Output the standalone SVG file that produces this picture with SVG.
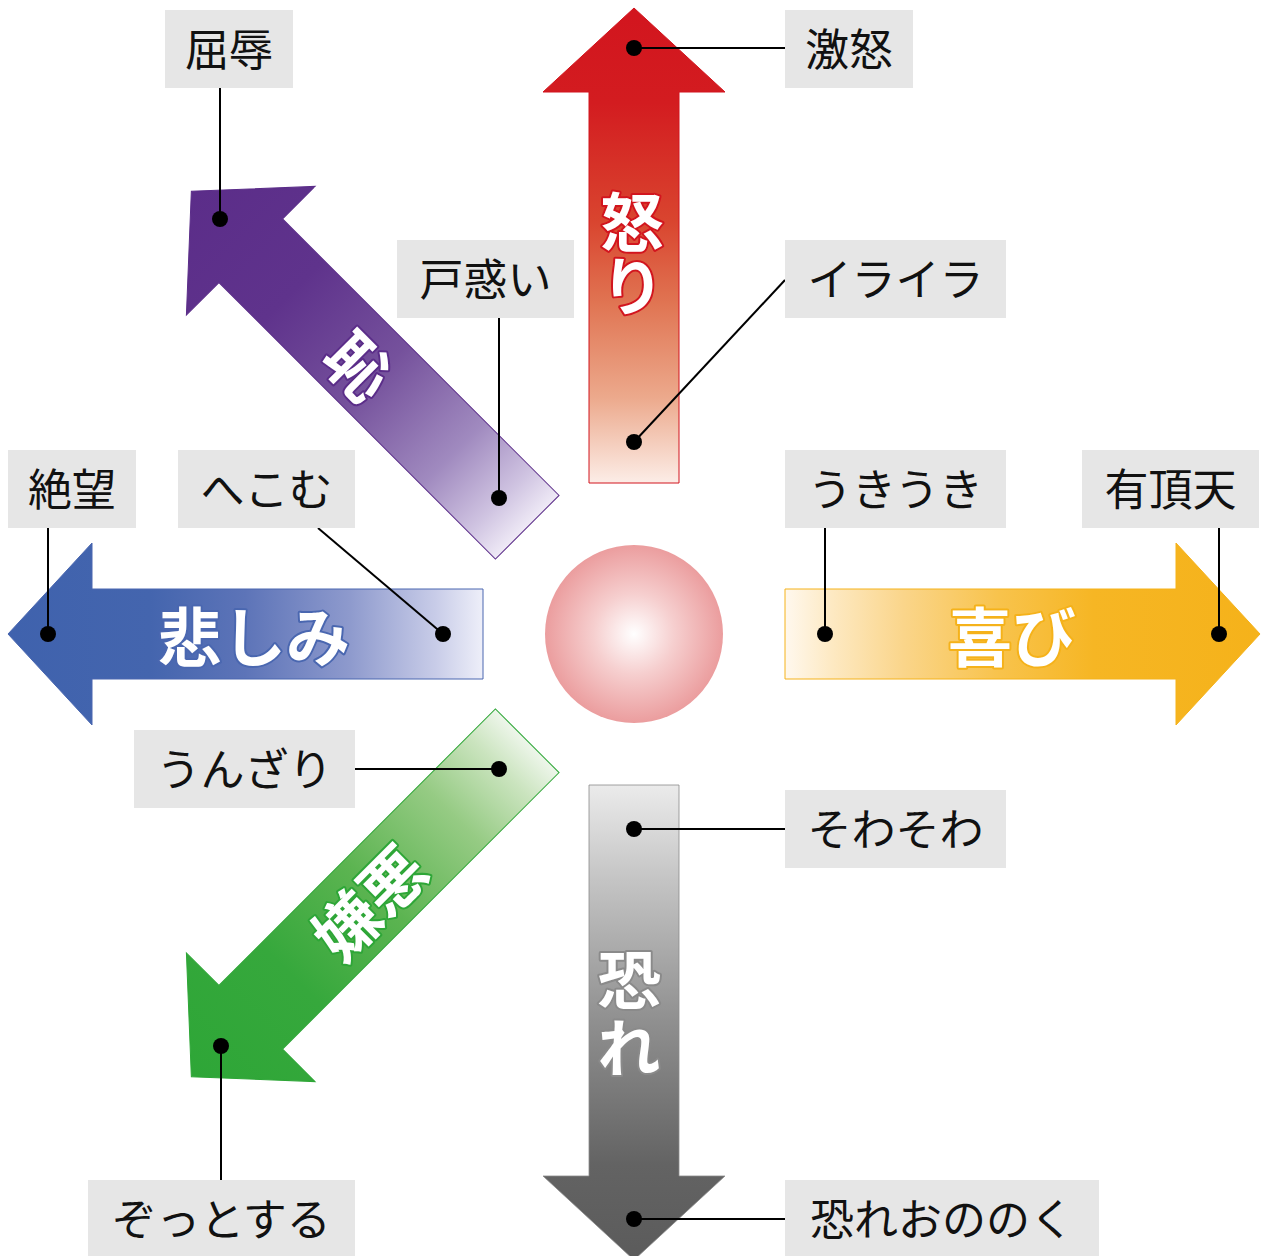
<svg xmlns="http://www.w3.org/2000/svg" xmlns:xlink="http://www.w3.org/1999/xlink" width="1261" height="1256" viewBox="0 0 1261 1256">
<style>
.box{fill:#e6e6e6}
.lbl{font-family:"Noto Sans CJK JP","Noto Sans",sans-serif;font-size:44px;fill:#111;text-anchor:middle}
.big{font-family:"Noto Sans CJK JP","Noto Sans",sans-serif;font-size:64px;font-weight:bold;fill:#fff;text-anchor:middle;stroke-width:4;paint-order:stroke;stroke-linejoin:round}
.vert{writing-mode:vertical-rl}
.con line{stroke:#000;stroke-width:2}
.con circle{fill:#000}
</style>
<defs>
<path id="arr" d="M634,8 L725,92 L679,92 L679,483 L589,483 L589,92 L543,92 Z"/>
<linearGradient id="gRed" x1="0" y1="0" x2="0" y2="1">
<stop offset="0" stop-color="#d2151e"/><stop offset="0.2" stop-color="#d31c20"/><stop offset="0.45" stop-color="#d9452f"/><stop offset="0.62" stop-color="#e07452"/><stop offset="0.82" stop-color="#eca98c"/><stop offset="1" stop-color="#fcede7"/>
</linearGradient>
<linearGradient id="gGrey" x1="0" y1="0" x2="0" y2="1">
<stop offset="0" stop-color="#5b5b5b"/><stop offset="0.2" stop-color="#636363"/><stop offset="0.5" stop-color="#8f8f8f"/><stop offset="0.8" stop-color="#c4c4c4"/><stop offset="1" stop-color="#ebebeb"/>
</linearGradient>
<linearGradient id="gBlue" x1="0" y1="0" x2="0" y2="1">
<stop offset="0" stop-color="#3f62ad"/><stop offset="0.3" stop-color="#4465ae"/><stop offset="0.5" stop-color="#5d74b8"/><stop offset="0.72" stop-color="#8e9acd"/><stop offset="0.9" stop-color="#c8cce8"/><stop offset="1" stop-color="#eeeff9"/>
</linearGradient>
<linearGradient id="gYel" x1="0" y1="0" x2="0" y2="1">
<stop offset="0" stop-color="#f5b21a"/><stop offset="0.35" stop-color="#f6b624"/><stop offset="0.55" stop-color="#f8c34c"/><stop offset="0.75" stop-color="#fad58a"/><stop offset="0.9" stop-color="#fde9c2"/><stop offset="1" stop-color="#fff8ee"/>
</linearGradient>
<linearGradient id="gPur" x1="0" y1="0" x2="0" y2="1">
<stop offset="0" stop-color="#5b2d89"/><stop offset="0.3" stop-color="#5f338c"/><stop offset="0.55" stop-color="#75519c"/><stop offset="0.78" stop-color="#a08abf"/><stop offset="0.92" stop-color="#cfc3e1"/><stop offset="1" stop-color="#efeaf6"/>
</linearGradient>
<linearGradient id="gGrn" x1="0" y1="0" x2="0" y2="1">
<stop offset="0" stop-color="#2ea637"/><stop offset="0.3" stop-color="#36a83c"/><stop offset="0.55" stop-color="#5cb451"/><stop offset="0.78" stop-color="#96cb84"/><stop offset="0.92" stop-color="#cbe4bf"/><stop offset="1" stop-color="#eef6eb"/>
</linearGradient>
<radialGradient id="gCirc" cx="0.5" cy="0.5" r="0.5">
<stop offset="0" stop-color="#ffffff"/><stop offset="0.45" stop-color="#f6cfcf"/><stop offset="1" stop-color="#eb9d9e"/>
</radialGradient>
</defs>

<g id="arrow-anger"><use xlink:href="#arr" href="#arr" fill="url(#gRed)" stroke="#d2151e" stroke-width="1"/></g>
<g id="arrow-fear"><use xlink:href="#arr" href="#arr" transform="rotate(180 634 634)" fill="url(#gGrey)" stroke="#8a8a8a" stroke-width="0.8"/></g>
<g id="arrow-sadness"><use xlink:href="#arr" href="#arr" transform="rotate(-90 634 634)" fill="url(#gBlue)" stroke="#4a67b0" stroke-width="1"/></g>
<g id="arrow-joy"><use xlink:href="#arr" href="#arr" transform="rotate(90 634 634)" fill="url(#gYel)" stroke="#f5b21a" stroke-width="1"/></g>
<g id="arrow-shame"><use xlink:href="#arr" href="#arr" transform="rotate(-45 634 634)" fill="url(#gPur)" stroke="#5b2d89" stroke-width="1"/></g>
<g id="arrow-disgust"><use xlink:href="#arr" href="#arr" transform="rotate(-135 634 634)" fill="url(#gGrn)" stroke="#2ea637" stroke-width="1"/></g>

<g id="center"><circle cx="634" cy="634" r="89" fill="url(#gCirc)"/></g>

<g id="arrow-labels">
<text class="big vert" x="632" y="254" stroke="#d2151e">怒り</text>
<text class="big vert" x="629" y="1016" stroke="#8a8a8a" letter-spacing="4">恐れ</text>
<text class="big" x="254" y="661" stroke="#4a67b0">悲しみ</text>
<text class="big" x="1012" y="661" stroke="#f5b21a">喜び</text>
<text class="big" x="358" y="391" stroke="#5b2d89" transform="rotate(45 358 367)">恥</text>
<text class="big" x="370" y="927" stroke="#2ea637" transform="rotate(-45 370 903)">嫌悪</text>
</g>

<g id="connectors" class="con">
<line x1="220" y1="88" x2="220" y2="219"/><circle cx="220" cy="219" r="8"/>
<line x1="634" y1="48" x2="785" y2="48"/><circle cx="634" cy="48" r="8"/>
<line x1="499" y1="318" x2="499" y2="498"/><circle cx="499" cy="498" r="8"/>
<line x1="785" y1="280" x2="634" y2="442"/><circle cx="634" cy="442" r="8"/>
<line x1="48" y1="528" x2="48" y2="634"/><circle cx="48" cy="634" r="8"/>
<line x1="318" y1="528" x2="443" y2="634"/><circle cx="443" cy="634" r="8"/>
<line x1="825" y1="528" x2="825" y2="634"/><circle cx="825" cy="634" r="8"/>
<line x1="1219" y1="528" x2="1219" y2="634"/><circle cx="1219" cy="634" r="8"/>
<line x1="355" y1="769" x2="499" y2="769"/><circle cx="499" cy="769" r="8"/>
<line x1="221" y1="1046" x2="221" y2="1180"/><circle cx="221" cy="1046" r="8"/>
<line x1="634" y1="829" x2="785" y2="829"/><circle cx="634" cy="829" r="8"/>
<line x1="634" y1="1219" x2="785" y2="1219"/><circle cx="634" cy="1219" r="8"/>
</g>

<g id="n-kutsujoku"><rect class="box" x="165" y="10" width="128" height="78"/><text class="lbl" x="229" y="66">屈辱</text></g>
<g id="n-gekido"><rect class="box" x="785" y="10" width="128" height="78"/><text class="lbl" x="849" y="66">激怒</text></g>
<g id="n-tomadoi"><rect class="box" x="397" y="240" width="177" height="78"/><text class="lbl" x="485.5" y="296">戸惑い</text></g>
<g id="n-iraira"><rect class="box" x="785" y="240" width="221" height="78"/><text class="lbl" x="895.5" y="296">イライラ</text></g>
<g id="n-zetsubou"><rect class="box" x="8" y="450" width="128" height="78"/><text class="lbl" x="72" y="506">絶望</text></g>
<g id="n-hekomu"><rect class="box" x="178" y="450" width="177" height="78"/><text class="lbl" x="266.5" y="506">へこむ</text></g>
<g id="n-ukiuki"><rect class="box" x="785" y="450" width="221" height="78"/><text class="lbl" x="895.5" y="506">うきうき</text></g>
<g id="n-uchouten"><rect class="box" x="1082" y="450" width="177" height="78"/><text class="lbl" x="1170.5" y="506">有頂天</text></g>
<g id="n-unzari"><rect class="box" x="134" y="730" width="221" height="78"/><text class="lbl" x="244.5" y="786">うんざり</text></g>
<g id="n-sowasowa"><rect class="box" x="785" y="790" width="221" height="78"/><text class="lbl" x="895.5" y="846">そわそわ</text></g>
<g id="n-zottosuru"><rect class="box" x="88" y="1180" width="267" height="78"/><text class="lbl" x="221.5" y="1236">ぞっとする</text></g>
<g id="n-osore"><rect class="box" x="785" y="1180" width="314" height="78"/><text class="lbl" x="942" y="1236">恐れおののく</text></g>
</svg>
